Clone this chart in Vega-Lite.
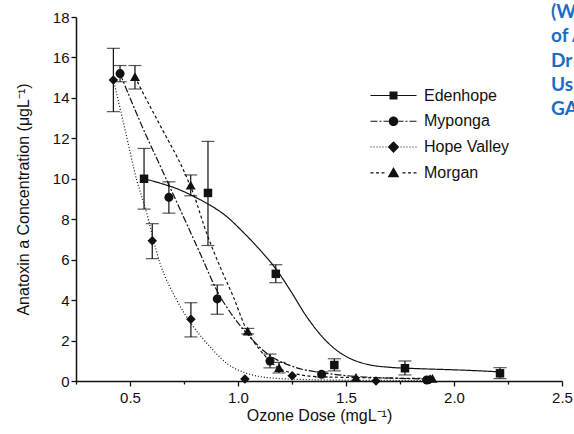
{
  "$schema": "https://vega.github.io/schema/vega-lite/v6.json",
  "width": 486,
  "height": 364,
  "autosize": "none",
  "padding": {"left": 76, "top": 17, "right": 12, "bottom": 53},
  "background": "white",
  "title": {
    "text": ["(W", "of A", "Dr", "Us", "GA"],
    "anchor": "start",
    "frame": "group",
    "orient": "top",
    "align": "left",
    "baseline": "top",
    "dx": 475,
    "dy": 109,
    "offset": 0,
    "lineHeight": 24.25,
    "font": "Lato",
    "fontSize": 19,
    "fontWeight": "bold",
    "color": "#1a6dc4"
  },
  "datasets": {
    "pts": [
      {"site": "Edenhope", "dose": 0.565, "conc": 10.0, "lo": 8.5, "hi": 11.5},
      {"site": "Edenhope", "dose": 0.861, "conc": 9.3, "lo": 6.7, "hi": 11.85},
      {"site": "Edenhope", "dose": 1.175, "conc": 5.3, "lo": 4.86, "hi": 5.75},
      {"site": "Edenhope", "dose": 1.446, "conc": 0.79, "lo": 0.5, "hi": 1.1},
      {"site": "Edenhope", "dose": 1.773, "conc": 0.63, "lo": 0.3, "hi": 0.99},
      {"site": "Edenhope", "dose": 2.213, "conc": 0.38, "lo": 0.12, "hi": 0.66},
      {"site": "Myponga", "dose": 0.454, "conc": 15.2, "lo": 14.8, "hi": 15.6},
      {"site": "Myponga", "dose": 0.68, "conc": 9.08, "lo": 8.3, "hi": 9.85},
      {"site": "Myponga", "dose": 0.904, "conc": 4.06, "lo": 3.3, "hi": 4.75},
      {"site": "Myponga", "dose": 1.148, "conc": 0.99, "lo": 0.65, "hi": 1.33},
      {"site": "Myponga", "dose": 1.387, "conc": 0.33, "lo": 0.2, "hi": 0.45},
      {"site": "Myponga", "dose": 1.874, "conc": 0.05, "lo": null, "hi": null},
      {"site": "Hope Valley", "dose": 0.423, "conc": 14.89, "lo": 13.32, "hi": 16.45},
      {"site": "Hope Valley", "dose": 0.603, "conc": 6.94, "lo": 6.05, "hi": 7.78},
      {"site": "Hope Valley", "dose": 0.782, "conc": 3.05, "lo": 2.18, "hi": 3.87},
      {"site": "Hope Valley", "dose": 1.032, "conc": 0.1, "lo": null, "hi": null},
      {"site": "Hope Valley", "dose": 1.251, "conc": 0.26, "lo": null, "hi": null},
      {"site": "Hope Valley", "dose": 1.639, "conc": 0.0, "lo": null, "hi": null},
      {"site": "Hope Valley", "dose": 1.889, "conc": 0.08, "lo": null, "hi": null},
      {"site": "Morgan", "dose": 0.523, "conc": 15.05, "lo": 14.44, "hi": 15.6},
      {"site": "Morgan", "dose": 0.781, "conc": 9.69, "lo": 9.16, "hi": 10.19},
      {"site": "Morgan", "dose": 1.045, "conc": 2.47, "lo": 2.33, "hi": 2.6},
      {"site": "Morgan", "dose": 1.19, "conc": 0.66, "lo": 0.4, "hi": 0.92},
      {"site": "Morgan", "dose": 1.546, "conc": 0.18, "lo": null, "hi": null},
      {"site": "Morgan", "dose": 1.9, "conc": 0.13, "lo": null, "hi": null}
    ],
    "curves": [
      {"site": "Edenhope", "dose": 0.565, "conc": 10.0},
      {"site": "Edenhope", "dose": 0.65, "conc": 9.75},
      {"site": "Edenhope", "dose": 0.731, "conc": 9.45},
      {"site": "Edenhope", "dose": 0.8, "conc": 9.1},
      {"site": "Edenhope", "dose": 0.87, "conc": 8.7},
      {"site": "Edenhope", "dose": 0.948, "conc": 8.13},
      {"site": "Edenhope", "dose": 1.02, "conc": 7.4},
      {"site": "Edenhope", "dose": 1.102, "conc": 6.48},
      {"site": "Edenhope", "dose": 1.179, "conc": 5.49},
      {"site": "Edenhope", "dose": 1.241, "conc": 4.5},
      {"site": "Edenhope", "dose": 1.318, "conc": 3.18},
      {"site": "Edenhope", "dose": 1.411, "conc": 1.95},
      {"site": "Edenhope", "dose": 1.472, "conc": 1.4},
      {"site": "Edenhope", "dose": 1.53, "conc": 1.06},
      {"site": "Edenhope", "dose": 1.6, "conc": 0.82},
      {"site": "Edenhope", "dose": 1.7, "conc": 0.68},
      {"site": "Edenhope", "dose": 1.81, "conc": 0.62},
      {"site": "Edenhope", "dose": 1.95, "conc": 0.57},
      {"site": "Edenhope", "dose": 2.059, "conc": 0.53},
      {"site": "Edenhope", "dose": 2.213, "conc": 0.45},
      {"site": "Myponga", "dose": 0.454, "conc": 15.2},
      {"site": "Myponga", "dose": 0.55, "conc": 12.74},
      {"site": "Myponga", "dose": 0.65, "conc": 10.4},
      {"site": "Myponga", "dose": 0.75, "conc": 8.06},
      {"site": "Myponga", "dose": 0.83, "conc": 6.18},
      {"site": "Myponga", "dose": 0.901, "conc": 4.5},
      {"site": "Myponga", "dose": 0.97, "conc": 3.3},
      {"site": "Myponga", "dose": 1.04, "conc": 2.36},
      {"site": "Myponga", "dose": 1.133, "conc": 1.37},
      {"site": "Myponga", "dose": 1.255, "conc": 0.71},
      {"site": "Myponga", "dose": 1.411, "conc": 0.38},
      {"site": "Myponga", "dose": 1.565, "conc": 0.21},
      {"site": "Myponga", "dose": 1.72, "conc": 0.14},
      {"site": "Myponga", "dose": 1.874, "conc": 0.1},
      {"site": "Hope Valley", "dose": 0.423, "conc": 14.9},
      {"site": "Hope Valley", "dose": 0.48, "conc": 12.3},
      {"site": "Hope Valley", "dose": 0.531, "conc": 9.94},
      {"site": "Hope Valley", "dose": 0.569, "conc": 8.62},
      {"site": "Hope Valley", "dose": 0.639, "conc": 5.82},
      {"site": "Hope Valley", "dose": 0.716, "conc": 4.01},
      {"site": "Hope Valley", "dose": 0.793, "conc": 2.69},
      {"site": "Hope Valley", "dose": 0.87, "conc": 1.7},
      {"site": "Hope Valley", "dose": 0.948, "conc": 0.87},
      {"site": "Hope Valley", "dose": 1.04, "conc": 0.38},
      {"site": "Hope Valley", "dose": 1.179, "conc": 0.13},
      {"site": "Hope Valley", "dose": 1.411, "conc": 0.05},
      {"site": "Hope Valley", "dose": 1.65, "conc": 0.03},
      {"site": "Hope Valley", "dose": 1.889, "conc": 0.02},
      {"site": "Morgan", "dose": 0.523, "conc": 15.05},
      {"site": "Morgan", "dose": 0.546, "conc": 14.55},
      {"site": "Morgan", "dose": 0.65, "conc": 12.43},
      {"site": "Morgan", "dose": 0.747, "conc": 10.44},
      {"site": "Morgan", "dose": 0.793, "conc": 9.28},
      {"site": "Morgan", "dose": 0.855, "conc": 7.3},
      {"site": "Morgan", "dose": 0.917, "conc": 5.65},
      {"site": "Morgan", "dose": 0.978, "conc": 4.17},
      {"site": "Morgan", "dose": 1.04, "conc": 2.52},
      {"site": "Morgan", "dose": 1.102, "conc": 1.53},
      {"site": "Morgan", "dose": 1.179, "conc": 0.71},
      {"site": "Morgan", "dose": 1.256, "conc": 0.38},
      {"site": "Morgan", "dose": 1.38, "conc": 0.21},
      {"site": "Morgan", "dose": 1.55, "conc": 0.17},
      {"site": "Morgan", "dose": 1.72, "conc": 0.14},
      {"site": "Morgan", "dose": 1.9, "conc": 0.12}
    ]
  },
  "layer": [
    {
      "data": {"name": "curves"},
      "mark": {"type": "line", "interpolate": "monotone", "color": "#111", "strokeWidth": 1.2},
      "encoding": {
        "x": {
          "field": "dose", "type": "quantitative",
          "title": "Ozone Dose (mgL⁻¹)",
          "scale": {"domain": [0.25, 2.5], "nice": false, "zero": false},
          "axis": {
            "values": [0.25, 0.5, 0.75, 1, 1.25, 1.5, 1.75, 2, 2.25, 2.5],
            "format": ".1f",
            "labelExpr": "abs(datum.value*2 - round(datum.value*2)) < 0.01 ? datum.label : ''",
            "tickSize": {"condition": {"test": "abs(datum.value*2 - round(datum.value*2)) < 0.01", "value": 5}, "value": 3},
            "labelPadding": 4,
            "titlePadding": 2
          }
        },
        "y": {
          "field": "conc", "type": "quantitative",
          "title": "Anatoxin a Concentration (μgL⁻¹)",
          "scale": {"domain": [0, 18], "nice": false},
          "axis": {
            "values": [0, 1, 2, 3, 4, 5, 6, 7, 8, 9, 10, 11, 12, 13, 14, 15, 16, 17, 18],
            "labelExpr": "datum.value % 2 == 0 ? datum.label : ''",
            "tickSize": {"condition": {"test": "datum.value % 2 == 0", "value": 5}, "value": 3},
            "labelPadding": 2,
            "titlePadding": 21
          }
        },
        "strokeDash": {
          "field": "site", "type": "nominal",
          "scale": {"domain": ["Edenhope", "Myponga", "Hope Valley", "Morgan"], "range": [[1, 0], [7, 2, 2, 2], [1, 2], [3, 2.5]]},
          "legend": {
            "title": null,
            "orient": "none",
            "legendX": 309.5,
            "legendY": 70.5,
            "padding": 0,
            "symbolSize": 64,
            "symbolOffset": 0,
            "labelOffset": 22.5,
            "rowPadding": 9.8,
            "labelFontSize": 16,
            "labelFont": "Liberation Sans",
            "labelColor": "#111",
            "symbolStrokeColor": "#111",
            "symbolStrokeWidth": 1,
            "encode": {
              "symbols": {
                "update": {
                  "shape": {"signal": "datum.value === 'Edenhope' ? 'M-5.75,-0.14H5.75V0.14H-5.75ZM-1,-1H1V1H-1Z' : datum.value === 'Myponga' ? 'M-5.75,-0.14H-4V0.14H-5.75ZM-3.5,-0.14H-3V0.14H-3.5ZM-2.5,-0.14H-1.25V0.14H-2.5ZM1.25,-0.14H2.5V0.14H1.25ZM3,-0.14H3.5V0.14H3ZM4,-0.14H5.75V0.14H4ZM-1.2,0A1.2,1.2,0,1,1,1.2,0A1.2,1.2,0,1,1,-1.2,0Z' : datum.value === 'Hope Valley' ? 'M-5.75,-0.12H-5.5V0.12H-5.75ZM-5,-0.12H-4.75V0.12H-5ZM-4.25,-0.12H-4V0.12H-4.25ZM-3.5,-0.12H-3.25V0.12H-3.5ZM-2.75,-0.12H-2.5V0.12H-2.75ZM-2,-0.12H-1.75V0.12H-2ZM1.75,-0.12H2V0.12H1.75ZM2.5,-0.12H2.75V0.12H2.5ZM3.25,-0.12H3.5V0.12H3.25ZM4,-0.12H4.25V0.12H4ZM4.75,-0.12H5V0.12H4.75ZM5.5,-0.12H5.75V0.12H5.5ZM0,-1.45L1.45,0L0,1.45L-1.45,0Z' : 'M-5.75,-0.15H-5V0.15H-5.75ZM-4.375,-0.15H-3.625V0.15H-4.375ZM-3,-0.15H-2.25V0.15H-3ZM2.25,-0.15H3V0.15H2.25ZM3.625,-0.15H4.375V0.15H3.625ZM5,-0.15H5.75V0.15H5ZM0,-1.45L1.45,1.1L-1.45,1.1Z'"},
                  "fill": {"value": "#111"},
                  "fillOpacity": {"value": 1},
                  "stroke": {"value": "transparent"},
                  "strokeWidth": {"value": 0},
                  "opacity": {"value": 1}
                }
              }
            }
          }
        },
        "order": {"field": "dose", "type": "quantitative"}
      }
    },
    {
      "data": {"name": "pts"},
      "transform": [{"filter": "datum.lo != null"}],
      "mark": {"type": "errorbar", "color": "#111", "thickness": 1.2, "ticks": {"size": 13}},
      "encoding": {
        "x": {"field": "dose", "type": "quantitative", "title": "Ozone Dose (mgL⁻¹)"},
        "y": {"field": "lo", "type": "quantitative", "title": "Anatoxin a Concentration (μgL⁻¹)"},
        "y2": {"field": "hi"}
      }
    },
    {
      "data": {"name": "pts"},
      "mark": {"type": "point", "filled": true, "color": "#111", "opacity": 1},
      "encoding": {
        "x": {"field": "dose", "type": "quantitative", "title": "Ozone Dose (mgL⁻¹)"},
        "y": {"field": "conc", "type": "quantitative", "title": "Anatoxin a Concentration (μgL⁻¹)"},
        "shape": {
          "field": "site", "type": "nominal",
          "sort": ["Edenhope", "Myponga", "Hope Valley", "Morgan"],
          "scale": {"range": ["square", "circle", "diamond", "triangle-up"]},
          "legend": null
        },
        "size": {
          "field": "site", "type": "nominal",
          "sort": ["Edenhope", "Myponga", "Hope Valley", "Morgan"],
          "scale": {"range": [72, 100, 140, 115]},
          "legend": null
        }
      }
    }
  ],
  "config": {
    "view": {"stroke": null},
    "font": "Liberation Sans",
    "axis": {
      "domainColor": "#111",
      "domainWidth": 1.5,
      "tickColor": "#111",
      "tickWidth": 1.3,
      "grid": false,
      "labelFont": "Liberation Sans",
      "labelFontSize": 15,
      "labelColor": "#111",
      "titleFont": "Liberation Sans",
      "titleFontSize": 16,
      "titleFontWeight": "normal",
      "titleColor": "#111",
      "labelFlush": false,
      "labelOverlap": false
    }
  }
}
